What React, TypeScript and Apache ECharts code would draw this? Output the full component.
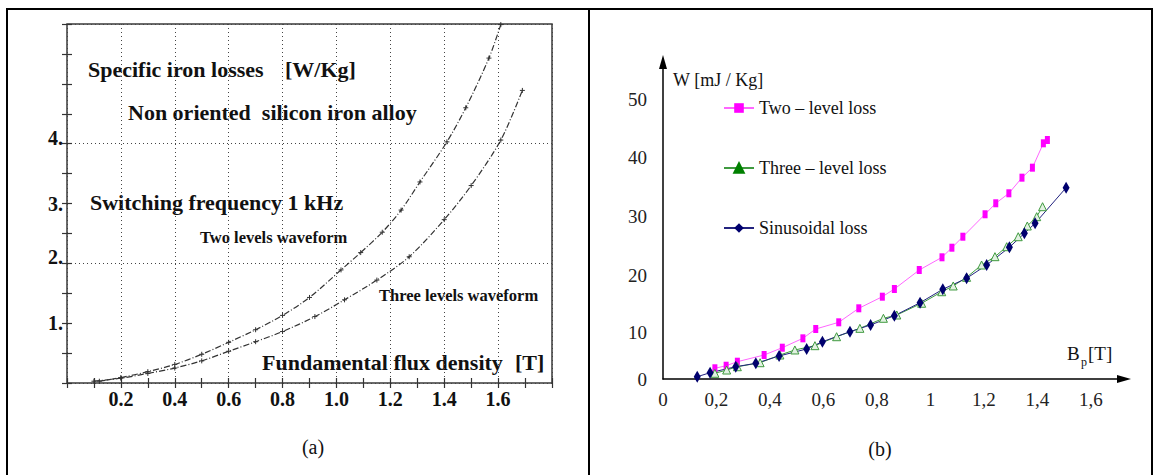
import React, { useEffect, useRef } from 'react';
import * as echarts from 'echarts';

// ---------- Panel (a) data ----------
const aTwoLevelsX = [0.12, 0.2, 0.3, 0.4, 0.5, 0.6, 0.7, 0.8, 0.9, 1.017, 1.09, 1.17, 1.24, 1.31, 1.41, 1.48, 1.566, 1.61];
const aTwoLevelsY = [0.03, 0.09, 0.19, 0.31, 0.48, 0.68, 0.89, 1.13, 1.43, 1.89, 2.18, 2.52, 2.89, 3.36, 4.03, 4.6, 5.43, 5.99];
const aThreeLevelsX = [0.1, 0.2, 0.3, 0.4, 0.5, 0.6, 0.7, 0.8, 0.92, 1.03, 1.15, 1.27, 1.4, 1.5, 1.61, 1.69];
const aThreeLevelsY = [0.03, 0.08, 0.16, 0.25, 0.37, 0.53, 0.69, 0.86, 1.11, 1.39, 1.72, 2.11, 2.73, 3.3, 4.06, 4.89];
const aXTickValues = [0.2, 0.4, 0.6, 0.8, 1.0, 1.2, 1.4, 1.6];
const aXTickLabels = ['0.2', '0.4', '0.6', '0.8', '1.0', '1.2', '1.4', '1.6'];
const aYTickValues = [1, 2, 3, 4];
const aYTickLabels = ['1.', '2.', '3.', '4.'];

// ---------- Panel (b) data ----------
const bTwoLevelX = [0.194, 0.236, 0.278, 0.378, 0.446, 0.523, 0.571, 0.657, 0.732, 0.82, 0.865, 0.958, 1.043, 1.08, 1.121, 1.204, 1.244, 1.293, 1.342, 1.381, 1.422, 1.437];
const bTwoLevelY = [1.92, 2.38, 3.1, 4.3, 5.61, 7.29, 8.96, 10.16, 12.67, 14.75, 16.13, 19.53, 21.81, 23.53, 25.5, 29.52, 31.49, 33.28, 36.08, 37.87, 42.24, 42.83];
const bThreeLevelX = [0.194, 0.238, 0.278, 0.363, 0.437, 0.493, 0.568, 0.649, 0.736, 0.824, 0.874, 0.967, 1.042, 1.085, 1.135, 1.191, 1.241, 1.285, 1.328, 1.362, 1.397, 1.419];
const bThreeLevelY = [1.02, 1.61, 2.2, 2.92, 4.3, 5.2, 5.97, 7.58, 9.08, 10.88, 11.47, 13.57, 15.64, 16.67, 18.22, 20.43, 21.92, 23.71, 25.5, 27.42, 29.09, 30.88];
const bSinusX = [0.128, 0.176, 0.272, 0.347, 0.434, 0.537, 0.596, 0.699, 0.776, 0.865, 0.961, 1.046, 1.135, 1.21, 1.295, 1.351, 1.391, 1.507];
const bSinusY = [0.41, 1.13, 2.2, 2.81, 4.12, 5.38, 6.68, 8.48, 9.68, 11.34, 13.67, 16.08, 18.05, 20.43, 23.6, 26.11, 27.9, 34.28];
const bXTickValues = [0, 0.2, 0.4, 0.6, 0.8, 1.0, 1.2, 1.4, 1.6];
const bXTickLabels = ['0', '0,2', '0,4', '0,6', '0,8', '1', '1,2', '1,4', '1,6'];
const bYTickValues = [0, 10, 20, 30, 40, 50];
const bYTickLabels = ['0', '10', '20', '30', '40', '50'];
const bSeriesNames = ['Two \u2013 level loss', 'Three \u2013 level loss', 'Sinusoidal loss'];

const SERIF = '"Liberation Serif", "Times New Roman", Times, serif';

const pairs = (xs: number[], ys: number[]) => xs.map((x, i) => [x, ys[i]]);
const lookup = (vals: number[], labels: string[]) => (v: number) => {
  const i = vals.findIndex((t) => Math.abs(t - v) < 1e-6);
  return i >= 0 ? labels[i] : '';
};

// label vertical nudges (style only)
const bYShift: Record<string, string> = { '10': 'd9', '20': 'd8', '30': 'd5', '40': 'd2' };

const txt = (text: string, x: number, y: number, size: number, weight = 'bold', align = 'left') => ({
  type: 'text',
  x,
  y,
  silent: true,
  style: {
    text,
    font: `${weight} ${size}px ${SERIF}`,
    fill: '#111',
    textAlign: align,
    textVerticalAlign: 'middle',
    align,
    verticalAlign: 'middle',
  },
});

const frameLine = (x1: number, y1: number, x2: number, y2: number) => ({
  type: 'line',
  silent: true,
  shape: { x1, y1, x2, y2 },
  style: { stroke: '#000', lineWidth: 2 },
});

export default function App() {
  const ref = useRef<HTMLDivElement>(null);

  useEffect(() => {
    document.body.style.margin = '0';
    if (!ref.current) return;
    const chart = echarts.init(ref.current, undefined, { renderer: 'svg' });

    const aTick = { show: true, inside: true, length: 5, lineStyle: { color: '#333', width: 1.2 } };
    const dotted = { show: true, lineStyle: { type: [1, 3], color: '#444', width: 1 } };
    const aLabelFmtX = lookup(aXTickValues, aXTickLabels);
    const aLabelFmtY = lookup(aYTickValues, aYTickLabels);
    const bLabelFmtX = lookup(bXTickValues, bXTickLabels);
    const bLabelFmtY = lookup(bYTickValues, bYTickLabels);
    const crossSymbol = 'path://M5 0V10M0 5H10';
    const bFont = { fontFamily: SERIF, fontSize: 19, color: '#222' };

    const option: any = {
      animation: false,
      backgroundColor: '#fff',
      grid: [
        { left: 67, top: 24, width: 485, height: 359, show: true, borderColor: '#3a3a3a', borderWidth: 1.5, backgroundColor: 'transparent' },
        { left: 663, top: 62, width: 461, height: 317, show: false },
      ],
      xAxis: [
        {
          gridIndex: 0, type: 'value', min: 0, max: 1.8, interval: 0.1, position: 'bottom',
          axisLine: { show: false }, axisTick: aTick, splitLine: { show: false },
          axisLabel: { formatter: (v: number) => aLabelFmtX(v), fontFamily: SERIF, fontWeight: 'bold', fontSize: 20, color: '#111', margin: 6 },
        },
        {
          gridIndex: 0, type: 'value', min: 0, max: 1.8, interval: 0.1, position: 'top',
          axisLine: { show: false }, axisTick: aTick, splitLine: { show: false }, axisLabel: { show: false },
        },
        {
          gridIndex: 0, type: 'value', min: 0, max: 1.8, interval: 0.2, position: 'bottom',
          axisLine: { show: false }, axisTick: { show: false }, axisLabel: { show: false }, splitLine: dotted,
        },
        {
          gridIndex: 1, type: 'value', min: 0, max: 1.7234, interval: 0.2, position: 'bottom',
          axisLine: { show: true, onZero: false, symbol: ['none', 'triangle'], symbolSize: [8, 14], lineStyle: { color: '#000', width: 1.5 } },
          axisTick: { show: false }, splitLine: { show: false },
          axisLabel: { formatter: (v: number) => bLabelFmtX(v), margin: 11, ...bFont },
        },
      ],
      yAxis: [
        {
          gridIndex: 0, type: 'value', min: 0, max: 6, interval: 0.5, position: 'left',
          axisLine: { show: false }, axisTick: aTick, splitLine: { show: false },
          axisLabel: {
            formatter: (v: number) => {
              const s = aLabelFmtY(v);
              if (!s) return '';
              return v === 2 || v === 4 ? `{up|${s}}` : `{n|${s}}`;
            },
            margin: 4,
            rich: {
              up: { fontFamily: SERIF, fontWeight: 'bold', fontSize: 20, color: '#111', padding: [0, 0, 12, 0] },
              n: { fontFamily: SERIF, fontWeight: 'bold', fontSize: 20, color: '#111' },
            },
          },
        },
        {
          gridIndex: 0, type: 'value', min: 0, max: 6, interval: 0.5, position: 'right',
          axisLine: { show: false }, axisTick: aTick, splitLine: { show: false }, axisLabel: { show: false },
        },
        {
          gridIndex: 0, type: 'value', min: 0, max: 6, interval: 2, position: 'left',
          axisLine: { show: false }, axisTick: { show: false }, axisLabel: { show: false }, splitLine: dotted,
        },
        {
          gridIndex: 1, type: 'value', min: 0, max: 56.81, interval: 10, position: 'left',
          axisLine: { show: true, onZero: false, symbol: ['none', 'triangle'], symbolSize: [8, 14], lineStyle: { color: '#000', width: 1.5 } },
          axisTick: { show: false }, splitLine: { show: false },
          axisLabel: {
            formatter: (v: number) => {
              const s = bLabelFmtY(v);
              if (!s) return '';
              const k = bYShift[s];
              return k ? `{${k}|${s}}` : `{d0|${s}}`;
            },
            margin: 16,
            rich: {
              d0: { ...bFont },
              d9: { ...bFont, padding: [18, 0, 0, 0] },
              d8: { ...bFont, padding: [16, 0, 0, 0] },
              d5: { ...bFont, padding: [10, 0, 0, 0] },
              d2: { ...bFont, padding: [4, 0, 0, 0] },
            },
          },
        },
      ],
      legend: {
        orient: 'vertical',
        left: 723,
        top: 98,
        padding: 0,
        itemWidth: 30,
        itemHeight: 12,
        itemGap: 40,
        selectedMode: false,
        textStyle: { fontFamily: SERIF, fontSize: 18, color: '#111', lineHeight: 20 },
        data: [
          { name: bSeriesNames[0] },
          { name: bSeriesNames[1], itemStyle: { color: '#008000', borderColor: '#008000' } },
          { name: bSeriesNames[2] },
        ],
      },
      series: [
        {
          type: 'line', xAxisIndex: 0, yAxisIndex: 0, smooth: 0.3, clip: true,
          data: pairs(aTwoLevelsX, aTwoLevelsY),
          symbol: crossSymbol, symbolSize: 5,
          itemStyle: { color: 'transparent', borderColor: '#333', borderWidth: 1 },
          lineStyle: { color: '#333', width: 1.2, type: [6, 2, 1, 2] },
        },
        {
          type: 'line', xAxisIndex: 0, yAxisIndex: 0, smooth: 0.3, clip: true,
          data: pairs(aThreeLevelsX, aThreeLevelsY),
          symbol: crossSymbol, symbolSize: 5,
          itemStyle: { color: 'transparent', borderColor: '#333', borderWidth: 1 },
          lineStyle: { color: '#333', width: 1.2, type: [6, 2, 1, 2] },
        },
        {
          name: bSeriesNames[0], type: 'line', xAxisIndex: 3, yAxisIndex: 3,
          data: pairs(bTwoLevelX, bTwoLevelY),
          symbol: 'rect', symbolSize: [5, 8],
          itemStyle: { color: '#ff00ff' },
          lineStyle: { color: '#ff66ff', width: 1 },
        },
        {
          name: bSeriesNames[1], type: 'line', xAxisIndex: 3, yAxisIndex: 3,
          data: pairs(bThreeLevelX, bThreeLevelY),
          symbol: 'triangle', symbolSize: 8,
          itemStyle: { color: '#e2f1e2', borderColor: '#3f9a3f', borderWidth: 1 },
          lineStyle: { color: '#3f9a3f', width: 1 },
        },
        {
          name: bSeriesNames[2], type: 'line', xAxisIndex: 3, yAxisIndex: 3,
          data: pairs(bSinusX, bSinusY),
          symbol: 'diamond', symbolSize: [7, 12],
          itemStyle: { color: '#00006e' },
          lineStyle: { color: '#23237f', width: 1 },
        },
      ],
      graphic: [
        frameLine(6, 9, 1153, 9),
        frameLine(7, 9, 7, 475),
        frameLine(589, 9, 589, 475),
        frameLine(1152, 9, 1152, 475),
        txt('Specific iron losses', 88, 69, 22),
        txt('[W/Kg]', 285, 69, 22),
        txt('Non oriented  silicon iron alloy', 128, 112, 22),
        txt('Switching frequency 1 kHz', 90, 202, 22),
        txt('Two levels waveform', 200, 237, 16.5),
        txt('Three levels waveform', 379, 295, 16.5),
        txt('Fundamental flux density', 262, 362, 22),
        txt('[T]', 515, 362, 22),
        txt('(a)', 313, 447, 20, 'normal', 'center'),
        txt('W [mJ / Kg]', 673, 80, 18, 'normal'),
        txt('B', 1067, 353, 19, 'normal'),
        txt('p', 1081, 362, 12, 'normal'),
        txt('[T]', 1088, 353, 19, 'normal'),
        txt('(b)', 880, 449, 20, 'normal', 'center'),
      ],
    };

    chart.setOption(option);
    return () => chart.dispose();
  }, []);

  return <div ref={ref} style={{ width: 1159, height: 475 }} />;
}
